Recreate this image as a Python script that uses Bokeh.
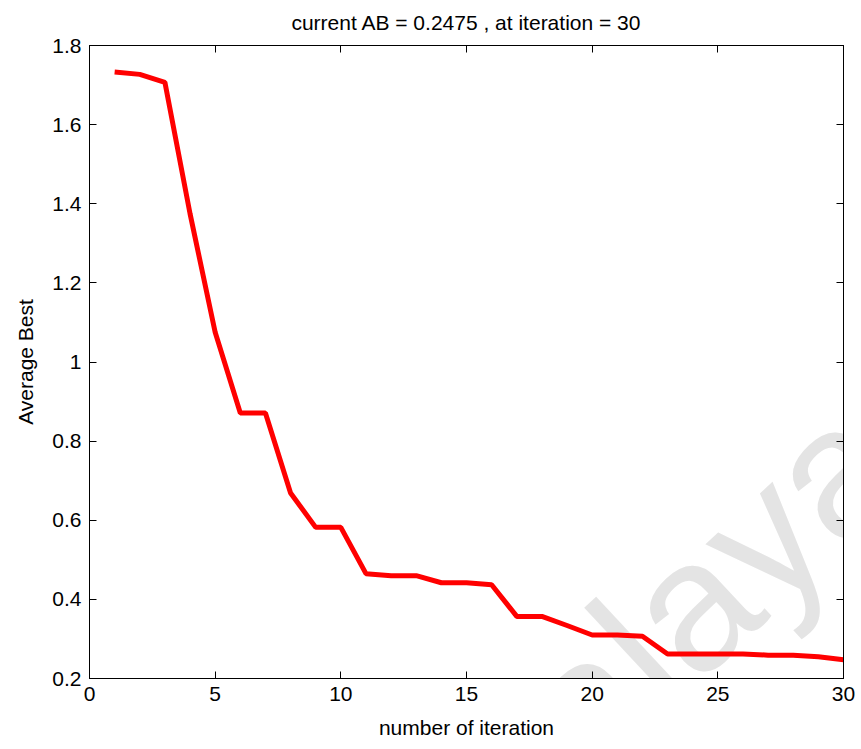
from bokeh.plotting import figure
from bokeh.models import Range1d, LinearAxis, FixedTicker, Label, CustomJSTickFormatter
from bokeh.embed import file_html
from bokeh.resources import INLINE

# ---- data ----
iterations = list(range(1, 31))
average_best = [1.733, 1.727, 1.707, 1.375, 1.075, 0.871, 0.871, 0.669, 0.582, 0.582,
                0.465, 0.460, 0.460, 0.442, 0.442, 0.437, 0.357, 0.357, 0.334, 0.310,
                0.310, 0.307, 0.262, 0.262, 0.262, 0.262, 0.259, 0.259, 0.255, 0.2475]
x_ticks = [0, 5, 10, 15, 20, 25, 30]
y_ticks = [0.2, 0.4, 0.6, 0.8, 1.0, 1.2, 1.4, 1.6, 1.8]
title_text = "current AB = 0.2475 , at iteration = 30"
x_label = "number of iteration"
y_label = "Average Best"
watermark = "Malaya"

FONT = "Liberation Sans"
FS = "21px"

p = figure(width=861, height=749, output_backend="svg", toolbar_location=None,
           x_range=Range1d(0, 30), y_range=Range1d(0.2, 1.8),
           min_border_left=89, min_border_right=18, min_border_top=45, min_border_bottom=71,
           title=title_text)
p.background_fill_color = "white"
p.border_fill_color = "white"
p.outline_line_color = "black"
p.outline_line_width = 1
p.xgrid.visible = False
p.ygrid.visible = False

p.title.align = "center"
p.title.vertical_align = "top"
p.title.text_font = FONT
p.title.text_font_size = FS
p.title.text_font_style = "normal"
p.title.text_color = "black"
p.title.standoff = 20

# watermark
wm = Label(x=13.74, y=-0.215, text=watermark, angle=43, angle_units="deg",
           text_font=FONT, text_font_size="185px", text_color="#e4e4e4",
           text_align="left", text_baseline="alphabetic", level="underlay")
p.add_layout(wm)

p.line(iterations, average_best, line_color="#ff0000", line_width=5)

def style_axis(ax, ticks, show_labels, label=None):
    ax.ticker = FixedTicker(ticks=ticks)
    ax.axis_line_color = "black"
    ax.major_tick_line_color = "black"
    ax.major_tick_in = 7
    ax.major_tick_out = 0
    ax.minor_tick_line_color = None
    ax.major_label_text_font = FONT
    ax.major_label_text_color = "black"
    if show_labels:
        ax.major_label_text_font_size = FS
        ax.major_label_standoff = 8
    else:
        ax.formatter = CustomJSTickFormatter(code="return ''")
        ax.major_label_text_font_size = "1px"
        ax.major_label_standoff = 0
    if label:
        ax.axis_label = label
        ax.axis_label_text_font = FONT
        ax.axis_label_text_font_size = FS
        ax.axis_label_text_font_style = "normal"
        ax.axis_label_text_color = "black"
        ax.axis_label_standoff = 12

style_axis(p.xaxis[0], x_ticks, True, x_label)
style_axis(p.yaxis[0], y_ticks, True, y_label)

top_ax = LinearAxis()
right_ax = LinearAxis()
p.add_layout(top_ax, "above")
p.add_layout(right_ax, "right")
style_axis(top_ax, x_ticks, False)
style_axis(right_ax, y_ticks, False)

open("out.html", "w").write(file_html(p, INLINE))
